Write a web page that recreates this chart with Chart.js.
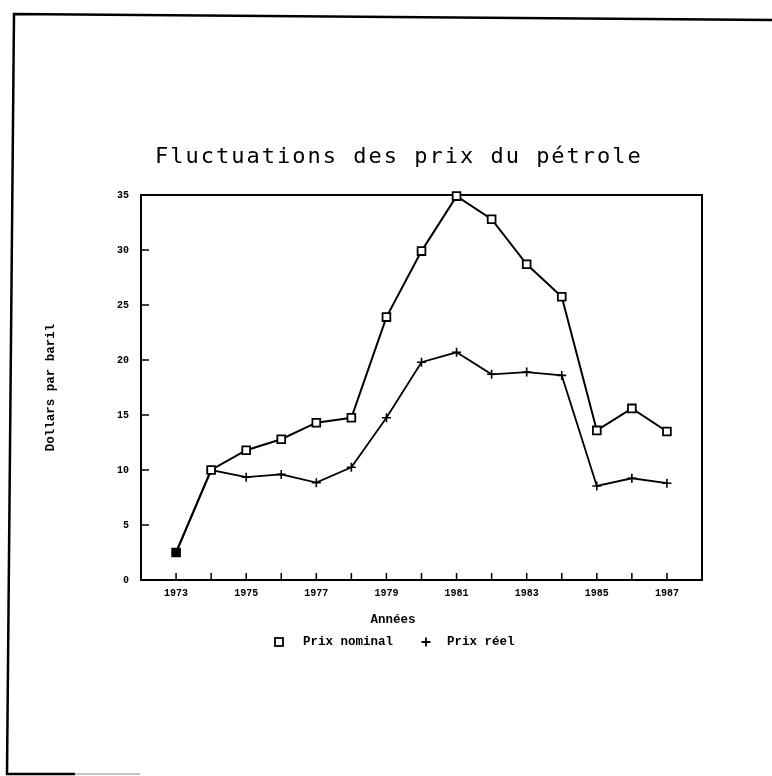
<!DOCTYPE html>
<html>
<head>
<meta charset="utf-8">
<script src="https://cdn.jsdelivr.net/npm/chart.js@4.4.0/dist/chart.umd.min.js"></script>
<style>
html,body{margin:0;padding:0;background:#fff;}
canvas{display:block;}
</style>
</head>
<body>
<canvas id="c" width="772" height="776"></canvas>
<script>
const years = [1973,1974,1975,1976,1977,1978,1979,1980,1981,1982,1983,1984,1985,1986,1987];
const nominalPrice = [2.5,10,11.8,12.8,14.3,14.75,23.9,29.9,34.9,32.8,28.7,25.75,13.6,15.6,13.5];
const realPrice = [2.5,10,9.35,9.6,8.85,10.25,14.75,19.8,20.7,18.7,18.9,18.6,8.55,9.25,8.8];
const yTickValues = [0,5,10,15,20,25,30,35];
const xTickLabels = [1973,1975,1977,1979,1981,1983,1985,1987];
const titleText = 'Fluctuations des prix du pétrole';
const xTitle = 'Années';
const yTitle = 'Dollars par baril';
const seriesNames = ['Prix nominal','Prix réel'];

const labelFont = '"Liberation Mono", "DejaVu Sans Mono", monospace';

const decor = {
  id: 'decor',
  beforeDraw(chart) {
    const ctx = chart.ctx;
    ctx.save();
    ctx.fillStyle = '#fff';
    ctx.fillRect(0, 0, chart.width, chart.height);
    // page frame
    ctx.strokeStyle = '#000';
    ctx.lineWidth = 2.5;
    ctx.beginPath();
    ctx.moveTo(772, 20);
    ctx.lineTo(14, 14);
    ctx.lineTo(7, 774);
    ctx.lineTo(75, 774);
    ctx.stroke();
    ctx.lineWidth = 1;
    ctx.strokeStyle = '#888';
    ctx.beginPath();
    ctx.moveTo(75, 774);
    ctx.lineTo(140, 774);
    ctx.stroke();
    ctx.restore();
  },
  beforeDatasetsDraw(chart) {
    const ctx = chart.ctx;
    const a = chart.chartArea;
    const xs = chart.scales.x, ys = chart.scales.y;
    ctx.save();
    ctx.strokeStyle = '#000';
    ctx.lineWidth = 2;
    ctx.strokeRect(a.left, a.top, a.right - a.left, a.bottom - a.top);
    ctx.lineWidth = 1.5;
    ctx.beginPath();
    xs.ticks.forEach(t => {
      if (t.value <= xs.min || t.value >= xs.max) return;
      const px = xs.getPixelForValue(t.value);
      ctx.moveTo(px, a.bottom);
      ctx.lineTo(px, a.bottom - 7);
    });
    ys.ticks.forEach(t => {
      if (t.value <= ys.min || t.value >= ys.max) return;
      const py = ys.getPixelForValue(t.value);
      ctx.moveTo(a.left, py);
      ctx.lineTo(a.left + 8, py);
    });
    ctx.stroke();
    ctx.restore();
  },
  afterDraw(chart) {
    const ctx = chart.ctx;
    ctx.save();
    ctx.fillStyle = '#000';
    // main title
    ctx.font = '22px "DejaVu Sans Mono", monospace';
    ctx.letterSpacing = '2px';
    ctx.textAlign = 'left';
    ctx.textBaseline = 'alphabetic';
    ctx.fillText(titleText, 155, 163);
    ctx.letterSpacing = '0px';
    // x axis title
    ctx.font = 'bold 12.5px ' + labelFont;
    ctx.textAlign = 'center';
    ctx.textBaseline = 'middle';
    ctx.fillText(xTitle, 393, 620);
    // legend
    const ly = 642;
    ctx.strokeStyle = '#000';
    ctx.lineWidth = 1.8;
    ctx.fillStyle = '#fff';
    ctx.fillRect(275, ly - 4, 8, 8);
    ctx.strokeRect(275, ly - 4, 8, 8);
    ctx.beginPath();
    ctx.moveTo(426 - 4.5, ly); ctx.lineTo(426 + 4.5, ly);
    ctx.moveTo(426, ly - 4.5); ctx.lineTo(426, ly + 4.5);
    ctx.stroke();
    ctx.fillStyle = '#000';
    ctx.textAlign = 'left';
    ctx.fillText(seriesNames[0], 303, ly);
    ctx.fillText(seriesNames[1], 447, ly);
    ctx.restore();
  }
};

new Chart(document.getElementById('c'), {
  type: 'line',
  data: {
    datasets: [
      {
        label: seriesNames[0],
        data: years.map((x, i) => ({x: x, y: nominalPrice[i]})),
        borderColor: '#000',
        borderWidth: 2,
        pointStyle: 'rect',
        pointRadius: 5.5,
        pointBorderWidth: 1.8,
        pointBorderColor: '#000',
        pointBackgroundColor: c => c.dataIndex === 0 ? '#000' : '#fff',
        tension: 0,
        clip: false
      },
      {
        label: seriesNames[1],
        data: years.map((x, i) => ({x: x, y: realPrice[i]})),
        borderColor: '#000',
        borderWidth: 1.8,
        pointStyle: 'cross',
        pointRadius: 4.5,
        pointBorderWidth: 1.6,
        pointBorderColor: '#000',
        pointBackgroundColor: '#000',
        tension: 0,
        clip: false
      }
    ]
  },
  options: {
    responsive: false,
    animation: false,
    devicePixelRatio: 1,
    layout: {padding: {left: 30, right: 70, top: 195, bottom: 146}},
    plugins: {
      legend: {display: false},
      tooltip: {enabled: false},
      title: {display: false}
    },
    scales: {
      x: {
        type: 'linear',
        min: 1972,
        max: 1988,
        afterFit: s => { s.height = 50; },
        grid: {display: false, drawTicks: false},
        border: {display: false},
        ticks: {
          stepSize: 1,
          autoSkip: false,
          maxRotation: 0,
          padding: 7,
          color: '#000',
          font: {family: labelFont, weight: 'bold', size: 10},
          callback: v => xTickLabels.includes(v) ? String(v) : ''
        }
      },
      y: {
        min: 0,
        max: 35,
        afterFit: s => { s.width = 111; },
        afterBuildTicks: s => { s.ticks = yTickValues.map(v => ({value: v})); },
        grid: {display: false, drawTicks: false},
        border: {display: false},
        title: {
          display: true,
          text: yTitle,
          color: '#000',
          font: {family: labelFont, weight: 'bold', size: 12.5},
          padding: {top: 13.5, bottom: 0}
        },
        ticks: {
          padding: 12,
          color: '#000',
          font: {family: labelFont, weight: 'bold', size: 10}
        }
      }
    }
  },
  plugins: [decor]
});
</script>
</body>
</html>
